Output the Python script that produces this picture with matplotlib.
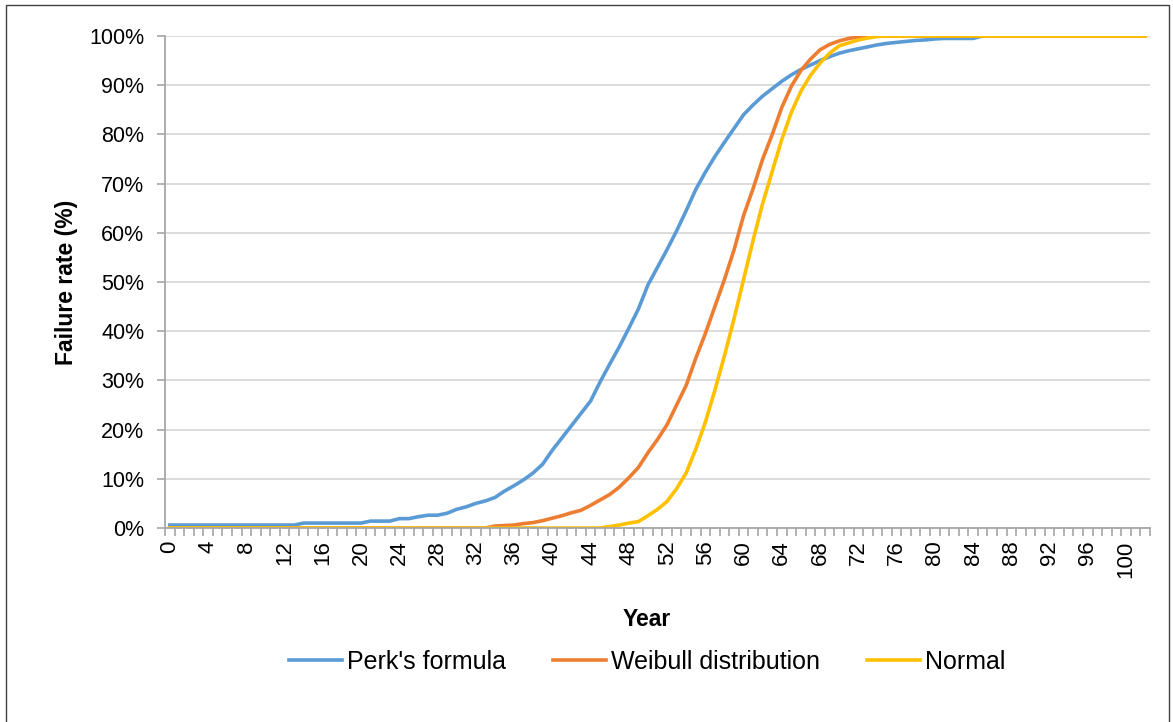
import numpy as np
import matplotlib
matplotlib.use("Agg")
import matplotlib.pyplot as plt
from matplotlib.patches import Rectangle
from matplotlib.ticker import FixedLocator, PercentFormatter

years = list(range(0, 103))

# Perk's formula (%)
perks = (
    [0.6] * 14
    + [1.0] * 7
    + [1.4] * 3
    + [1.9, 1.9, 2.3, 2.6, 2.6, 3.0, 3.8, 4.3, 5.0, 5.5, 6.2, 7.5, 8.6, 9.8,
       11.2, 13.0, 15.8, 18.3, 20.8, 23.3, 25.8, 29.7, 33.3, 36.8, 40.6, 44.5,
       49.4, 53.0, 56.6, 60.4, 64.5, 68.8, 72.3, 75.5, 78.4, 81.2, 84.0, 86.0,
       87.8, 89.3, 90.8, 92.1, 93.2, 94.1, 95.0, 95.8, 96.5, 97.0, 97.4, 97.8,
       98.2, 98.5, 98.7, 98.9, 99.1, 99.2, 99.4, 99.5, 99.5, 99.5, 99.5]
    + [100.0] * 18
)

weibull = (
    [0.0] * 34
    + [0.4, 0.5, 0.6, 0.9, 1.1, 1.5, 2.0, 2.5, 3.1, 3.6, 4.6, 5.7, 6.8, 8.3,
       10.2, 12.3, 15.3, 18.0, 21.0, 25.0, 29.0, 34.5, 39.5, 45.0, 50.5, 56.5,
       63.5, 69.0, 75.0, 80.0, 85.5, 89.8, 93.0, 95.3, 97.2, 98.3, 99.0, 99.5,
       99.8]
    + [100.0] * 30
)

normal = (
    [0.0] * 46
    + [0.3, 0.6, 1.0, 1.3, 2.5, 3.8, 5.4, 8.0, 11.2, 16.0, 21.5, 28.0, 35.0,
       42.5, 50.5, 58.5, 66.0, 72.5, 79.0, 84.5, 88.8, 92.0, 94.5, 96.5, 98.0,
       98.6, 99.2, 99.6, 99.9]
    + [100.0] * 28
)

labels = ["Perk's formula", "Weibull distribution", "Normal"]
colors = ["#5B9BD5", "#ED7D31", "#FFC000"]

plt.rcParams["font.family"] = ["Liberation Sans", "DejaVu Sans"]

fig = plt.figure(figsize=(11.73, 7.22), dpi=100)
ax = fig.add_axes([165 / 1173, 1 - 528 / 722, (1150 - 165) / 1173, (528 - 36) / 722])

for ys, lab, col in zip([perks, weibull, normal], labels, colors):
    ax.plot(years, ys, color=col, lw=2.6, label=lab, solid_joinstyle="round")

ax.set_xlim(-0.5, 102.5)
ax.set_ylim(0, 100)
ax.yaxis.set_major_locator(FixedLocator(np.arange(0, 101, 10)))
ax.yaxis.set_major_formatter(PercentFormatter(decimals=0))
ax.grid(axis="y", color="#D9D9D9", lw=1.3)
ax.set_axisbelow(True)

ax.set_xticks(list(range(0, 101, 4)))
ax.set_xticklabels([str(v) for v in range(0, 101, 4)], rotation=90)
ax.xaxis.set_minor_locator(FixedLocator(np.arange(-0.5, 103, 1)))
ax.tick_params(axis="x", which="major", length=0, pad=9, labelsize=16)
ax.tick_params(axis="x", which="minor", length=6, width=1.2, color="#A6A6A6", direction="out")
ax.tick_params(axis="y", which="major", length=6, width=1.2, color="#A6A6A6", labelsize=15.5, pad=9)

for side in ["top", "right"]:
    ax.spines[side].set_visible(False)
for side in ["left", "bottom"]:
    ax.spines[side].set_color("#A6A6A6")
    ax.spines[side].set_linewidth(1.3)

ax.set_ylabel("Failure rate (%)", fontsize=16.5, fontweight="bold", labelpad=8)
ax.set_xlabel("Year", fontsize=16.5, fontweight="bold", labelpad=22)
ax.xaxis.label.set_x((647 - 165) / 985)

fig.legend(loc="center", bbox_to_anchor=(647 / 1173, 1 - 662 / 722), ncol=3,
           frameon=False, fontsize=18, handlelength=2.1, columnspacing=1.9,
           handletextpad=0.2)

# outer chart frame
fig.patches.append(Rectangle((6 / 1173, -0.05), 1163 / 1173, 1.05 - 5 / 722,
                             transform=fig.transFigure, fill=False,
                             edgecolor="#404040", lw=1.0))

fig.savefig("out.png", dpi=100)
